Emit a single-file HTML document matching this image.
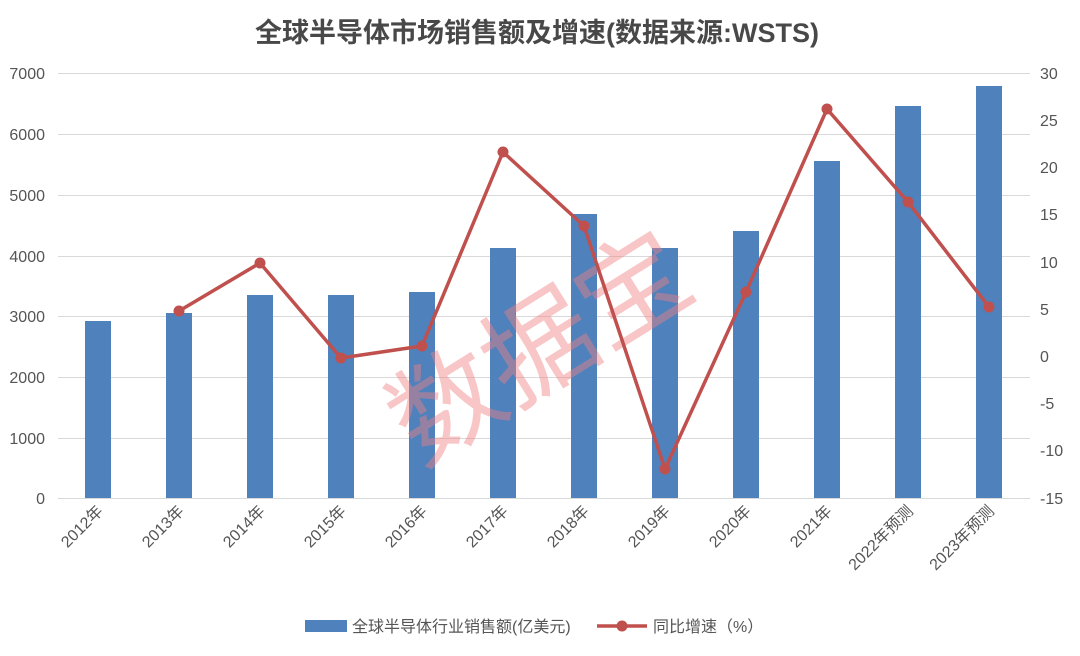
<!DOCTYPE html>
<html><head><meta charset="utf-8"><style>
html,body{margin:0;padding:0;background:#fff;}
svg{display:block;font-family:"Liberation Sans","Noto Sans CJK SC",sans-serif;}
</style></head><body>
<svg width="1080" height="656" viewBox="0 0 1080 656">
<text x="537" y="42" text-anchor="middle" font-size="27" font-weight="bold" fill="#484848">全球半导体市场销售额及增速(数据来源:WSTS)</text>
<g stroke="#d9d9d9" stroke-width="1">
<line x1="58" x2="1030" y1="73.5" y2="73.5"/><line x1="58" x2="1030" y1="134.5" y2="134.5"/>
<line x1="58" x2="1030" y1="195.5" y2="195.5"/><line x1="58" x2="1030" y1="256.5" y2="256.5"/>
<line x1="58" x2="1030" y1="316.5" y2="316.5"/><line x1="58" x2="1030" y1="377.5" y2="377.5"/>
<line x1="58" x2="1030" y1="438.5" y2="438.5"/><line x1="58" x2="1030" y1="498.5" y2="498.5"/>
</g>
<g font-size="16" fill="#555" text-anchor="end">
<text x="45" y="79">7000</text><text x="45" y="140">6000</text><text x="45" y="201">5000</text><text x="45" y="262">4000</text><text x="45" y="322">3000</text><text x="45" y="383">2000</text><text x="45" y="444">1000</text><text x="45" y="504">0</text>
</g>
<g font-size="16" fill="#555" text-anchor="start">
<text x="1040" y="79">30</text><text x="1040" y="126">25</text><text x="1040" y="173">20</text><text x="1040" y="220">15</text><text x="1040" y="268">10</text><text x="1040" y="315">5</text><text x="1040" y="362">0</text><text x="1040" y="409">-5</text><text x="1040" y="456">-10</text><text x="1040" y="504">-15</text>
</g>
<g fill="#4f81bd">
<rect x="85" y="321" width="26" height="177"/>
<rect x="166" y="313" width="26" height="185"/>
<rect x="247" y="295" width="26" height="203"/>
<rect x="328" y="295" width="26" height="203"/>
<rect x="409" y="292" width="26" height="206"/>
<rect x="490" y="248" width="26" height="250"/>
<rect x="571" y="214" width="26" height="284"/>
<rect x="652" y="248" width="26" height="250"/>
<rect x="733" y="231" width="26" height="267"/>
<rect x="814" y="161" width="26" height="337"/>
<rect x="895" y="106" width="26" height="392"/>
<rect x="976" y="86" width="26" height="412"/>
</g>
<text x="0" y="0" transform="translate(560,380) rotate(-32)" text-anchor="middle" font-size="110" fill="#f08080" fill-opacity="0.45" font-family="'Noto Sans CJK SC',sans-serif">数据宝</text>
<polyline fill="none" stroke="#c0504d" stroke-width="3.5" stroke-linejoin="round" points="179,311 260,263 341,358 422,346 503,152 584,226 665,469 746,292 827,109 908,202 989,307"/>
<g fill="#c0504d">
<circle cx="179" cy="311" r="5.5"/><circle cx="260" cy="263" r="5.5"/><circle cx="341" cy="358" r="5.5"/><circle cx="422" cy="346" r="5.5"/><circle cx="503" cy="152" r="5.5"/><circle cx="584" cy="226" r="5.5"/><circle cx="665" cy="469" r="5.5"/><circle cx="746" cy="292" r="5.5"/><circle cx="827" cy="109" r="5.5"/><circle cx="908" cy="202" r="5.5"/><circle cx="989" cy="307" r="5.5"/>
</g>
<g font-size="16" fill="#555" text-anchor="end">
<text transform="translate(104,512) rotate(-45)">2012年</text>
<text transform="translate(185,512) rotate(-45)">2013年</text>
<text transform="translate(266,512) rotate(-45)">2014年</text>
<text transform="translate(347,512) rotate(-45)">2015年</text>
<text transform="translate(428,512) rotate(-45)">2016年</text>
<text transform="translate(509,512) rotate(-45)">2017年</text>
<text transform="translate(590,512) rotate(-45)">2018年</text>
<text transform="translate(671,512) rotate(-45)">2019年</text>
<text transform="translate(752,512) rotate(-45)">2020年</text>
<text transform="translate(833,512) rotate(-45)">2021年</text>
<text transform="translate(914,512) rotate(-45)">2022年预测</text>
<text transform="translate(995,512) rotate(-45)">2023年预测</text>
</g>
<rect x="305" y="620" width="42" height="12" fill="#4f81bd"/>
<text x="352" y="632" font-size="16" fill="#555">全球半导体行业销售额(亿美元)</text>
<line x1="597" x2="647" y1="626" y2="626" stroke="#c0504d" stroke-width="3.5"/>
<circle cx="622" cy="626" r="5.5" fill="#c0504d"/>
<text x="653" y="632" font-size="16" fill="#555">同比增速（%）</text>
</svg>
</body></html>
